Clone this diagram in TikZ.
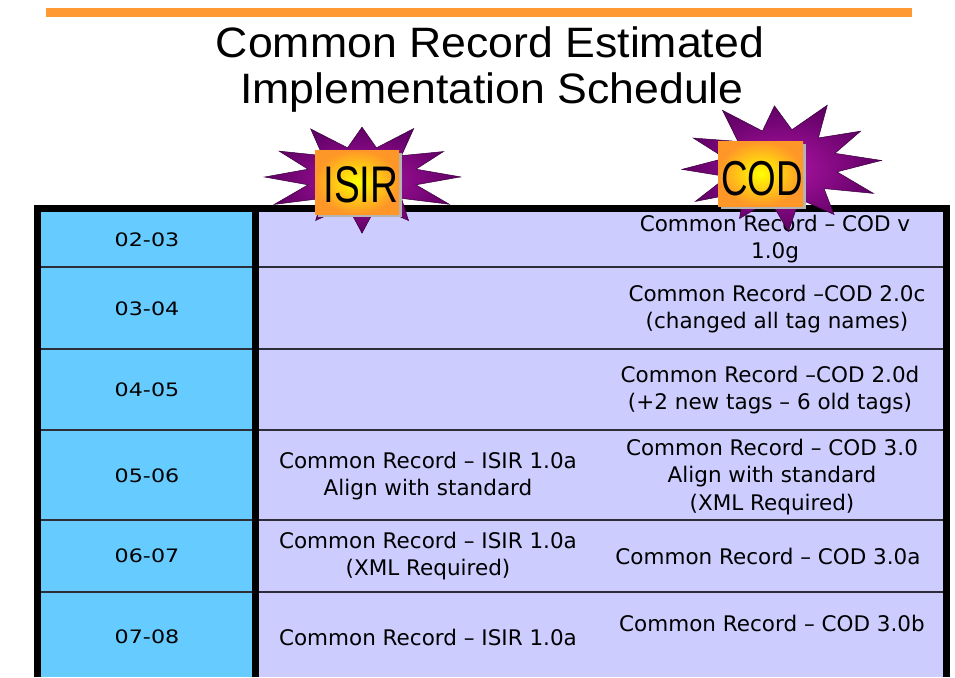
\documentclass[tikz,border=0pt]{standalone}
\usepackage{fontspec}
\setmainfont{DejaVu Sans}
\newfontfamily\titlefont[FakeStretch=1.05]{Liberation Sans}
\newfontfamily\tagfont[FakeStretch=0.75]{Liberation Sans}
\newfontfamily\yearfont[FakeStretch=1.2]{DejaVu Sans}
\definecolor{barorange}{RGB}{255,153,51}
\definecolor{yearblue}{RGB}{102,204,255}
\definecolor{celllav}{RGB}{204,204,255}
\definecolor{starin}{RGB}{175,20,165}
\definecolor{starout}{RGB}{95,0,100}
\definecolor{tagout}{RGB}{255,150,40}
\definecolor{tagin}{RGB}{255,255,0}
\definecolor{shadowgray}{RGB}{180,180,180}
\definecolor{rulecol}{RGB}{45,45,55}
\tikzset{
  yearlabel/.style={font=\yearfont\fontsize{18.5}{22}\selectfont, align=center, inner sep=0pt},
  cell/.style={font=\fontsize{21.5}{27.5}\selectfont, align=center, inner sep=0pt},
  titletext/.style={font=\titlefont\fontsize{42.5}{45}\selectfont, inner sep=0pt, anchor=base},
  tagtext/.style={inner sep=0pt, anchor=base},
  burst/.style={draw=starout!60!black, line width=0.5pt, inner color=starin, outer color=starout},
  tagbox/.style={inner color=tagin, outer color=tagout},
  tagshadow/.style={fill=shadowgray},
  rowrule/.style={draw=rulecol, line width=1.2pt},
}
% cx cy rx ry rot inner npoints
\newcommand\mystarburst[7]{%
  \begin{scope}[shift={(#1,#2)}, xscale=#3, yscale=#4]
    \path[burst] ({#5}:1)
      \foreach \k in {1,...,#7} { -- ({#5+(\k-0.5)*360/#7}:#6) -- ({#5+\k*360/#7}:{1+0.06*sin(\k*151)}) } -- cycle;
  \end{scope}}
\begin{document}
\begin{tikzpicture}[x=1pt,y=-1pt]
\useasboundingbox (0,0) rectangle (955,677);
\fill[white] (0,0) rectangle (955,677);
% orange bar
\fill[barorange] (46,8) rectangle (912,17.5);
% title
\node[titletext] (t1) at (490,58) {Common Record Estimated};
\node[titletext] (t2) at (492,103) {Implementation Schedule};
% table
\fill[black] (34,205) rectangle (950,677);
\fill[yearblue] (41,212) rectangle (252,677);
\fill[celllav] (259,212) rectangle (943,677);
\foreach \yy in {267,349,430,520,592} {
  \draw[rowrule] (41,\yy) -- (252,\yy);
  \draw[rowrule] (259,\yy) -- (943,\yy);
}
% year labels
\node[yearlabel] (y1) at (147,240) {02-03};
\node[yearlabel] (y2) at (147,309) {03-04};
\node[yearlabel] (y3) at (147,390) {04-05};
\node[yearlabel] (y4) at (147,476) {05-06};
\node[yearlabel] (y5) at (147,556) {06-07};
\node[yearlabel] (y6) at (147,637) {07-08};
% ISIR column
\node[cell] (i4) at (428,476) {Common Record – ISIR 1.0a\\Align with standard};
\node[cell] (i5) at (428,556) {Common Record – ISIR 1.0a\\(XML Required)};
\node[cell] (i6) at (428,637) {Common Record – ISIR 1.0a};
% COD column
\node[cell] (c1) at (775,239) {Common Record – COD v\\1.0g};
\node[cell] (c2) at (777,309) {Common Record –COD 2.0c\\(changed all tag names)};
\node[cell] (c3) at (770,390) {Common Record –COD 2.0d\\(+2 new tags – 6 old tags)};
\node[cell] (c4) at (772,477) {Common Record – COD 3.0\\Align with standard\\(XML Required)};
\node[cell] (c5) at (768,556) {Common Record – COD 3.0a};
\node[cell] (c6) at (772,623) {Common Record – COD 3.0b};
% star bursts
\mystarburst{362}{177}{98}{53}{0}{0.57}{12}
\mystarburst{781}{165}{100}{63}{-4}{0.57}{12}
% ISIR tag
\fill[tagshadow] (318,153) rectangle (402,217);
\shade[tagbox] (315,150) rectangle (399,214);
\node[tagtext, font=\tagfont\fontsize{51.5}{52}\selectfont] (isir) at (361,202) {ISIR};
% COD tag
\fill[tagshadow] (721,144) rectangle (806,209);
\shade[tagbox] (718,141) rectangle (803,206);
\node[tagtext, font=\tagfont\fontsize{49}{50}\selectfont] (cod) at (762,195) {COD};
\end{tikzpicture}
\end{document}
